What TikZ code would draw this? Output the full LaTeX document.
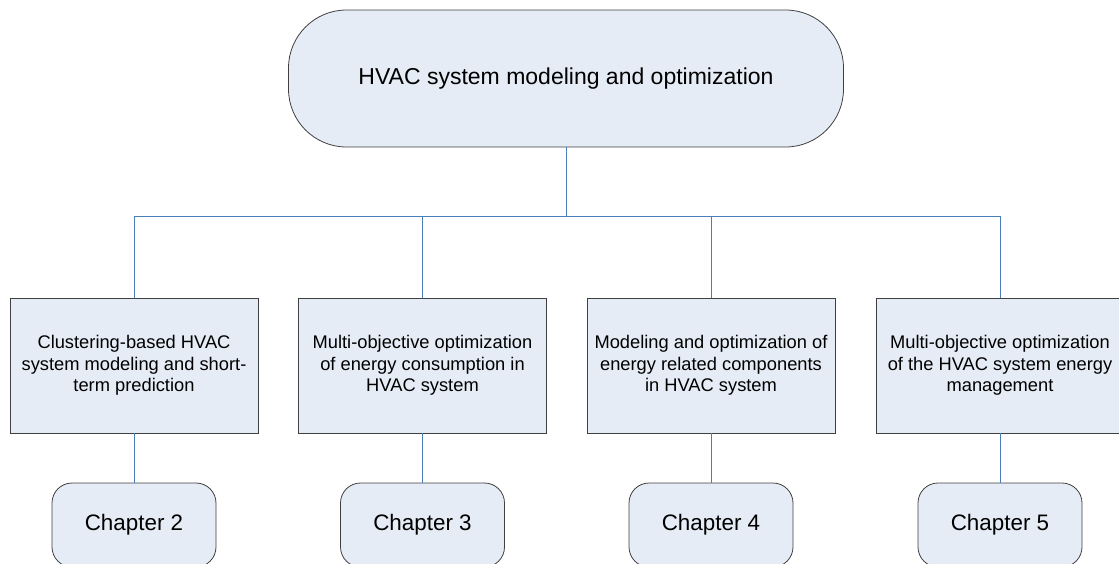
\documentclass[tikz,border=0pt]{standalone}
\usepackage{fontspec}
\setmainfont{Liberation Sans}
\definecolor{boxfill}{RGB}{230,236,246}
\definecolor{boxline}{RGB}{64,64,64}
\definecolor{conn}{RGB}{74,126,187}
\begin{document}
\begin{tikzpicture}[x=1pt,y=-1pt,
  topbox/.style={draw=boxline,fill=boxfill,line width=0.8pt,rounded corners=58pt,
    minimum width=555pt,minimum height=137pt,inner sep=0pt,font=\fontsize{23}{27}\selectfont},
  topicbox/.style={draw=boxline,fill=boxfill,line width=0.8pt,
    minimum width=248pt,minimum height=135pt,inner sep=0pt,align=center,
    font=\fontsize{18.3}{21.5}\selectfont},
  chapbox/.style={draw=boxline,fill=boxfill,line width=0.8pt,rounded corners=20pt,
    minimum width=164pt,minimum height=84pt,inner sep=0pt,font=\fontsize{22.4}{26}\selectfont},
  link/.style={draw=conn,line width=0.8pt}]
\useasboundingbox (0,0) rectangle (1119,563);
\node[topbox] (top) at (566,78.5) {HVAC system modeling and optimization};
\node[topicbox] (b1) at (134,365.5) {Clustering-based HVAC\\system modeling and short-\\term prediction};
\node[topicbox] (b2) at (422.5,365.5) {Multi-objective optimization\\of energy consumption in\\HVAC system};
\node[topicbox] (b3) at (711,365.5) {Modeling and optimization of\\energy related components\\in HVAC system};
\node[topicbox] (b4) at (1000,365.5) {Multi-objective optimization\\of the HVAC system energy\\management};
\node[chapbox] (c1) at (134,525) {Chapter 2};
\node[chapbox] (c2) at (422.5,525) {Chapter 3};
\node[chapbox] (c3) at (711,525) {Chapter 4};
\node[chapbox] (c4) at (1000,525) {Chapter 5};
\coordinate (bus) at (566,216);
\draw[link] (top.south) -- (bus);
\foreach \b in {b1,b2,b3,b4}{
  \draw[link] (bus) -| (\b.north);
}
\foreach \b/\c in {b1/c1,b2/c2,b3/c3,b4/c4}{
  \draw[link] (\b.south) -- (\c.north);
}
\end{tikzpicture}
\end{document}
